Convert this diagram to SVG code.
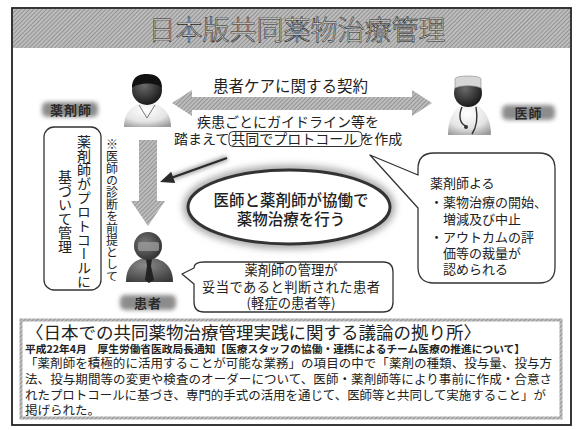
<svg xmlns="http://www.w3.org/2000/svg" width="577" height="430" viewBox="0 0 577 430">
  <style>
    .jp { font-family: "Noto Sans CJK JP", "Noto Sans", sans-serif; fill: #222; }
    .title { font-family: "Noto Sans CJK JP", sans-serif; font-size: 27px; font-weight: 300; fill: #ececec; stroke: #1e1e1e; stroke-width: 0.6px; text-anchor: middle; }
    .lbl { font-family: "Noto Sans CJK JP", sans-serif; font-size: 13px; font-weight: 700; fill: #2a2a2a; text-anchor: middle; letter-spacing: 1px; }
    .vert { writing-mode: vertical-rl; font-family: "Noto Sans CJK JP", sans-serif; fill: #222; }
    .bubble { fill: #fff; stroke: #333; stroke-width: 1.3; stroke-linejoin: round; }
    .shade { fill: url(#hatch); }
  </style>
  <defs>
    <pattern id="hatch" width="3" height="3" patternUnits="userSpaceOnUse" patternTransform="rotate(45)">
      <rect width="3" height="3" fill="#bdbdbd"/>
      <rect width="1" height="3" fill="#939393"/>
    </pattern>
    <filter id="blur2" x="-30%" y="-30%" width="160%" height="160%">
      <feGaussianBlur stdDeviation="2"/>
    </filter>
    <filter id="blur4" x="-20%" y="-40%" width="140%" height="180%">
      <feGaussianBlur stdDeviation="3.5"/>
    </filter>
    <radialGradient id="darkHead" cx="0.4" cy="0.35" r="0.7">
      <stop offset="0" stop-color="#6a6a6a"/>
      <stop offset="1" stop-color="#151515"/>
    </radialGradient>
    <radialGradient id="whiteBody" cx="0.45" cy="0.3" r="0.8">
      <stop offset="0" stop-color="#ffffff"/>
      <stop offset="0.6" stop-color="#e4e4e4"/>
      <stop offset="1" stop-color="#9a9a9a"/>
    </radialGradient>
    <radialGradient id="suit" cx="0.4" cy="0.3" r="0.8">
      <stop offset="0" stop-color="#8a8a8a"/>
      <stop offset="1" stop-color="#3a3a3a"/>
    </radialGradient>
    <radialGradient id="face" cx="0.4" cy="0.4" r="0.7">
      <stop offset="0" stop-color="#7a7a7a"/>
      <stop offset="1" stop-color="#2a2a2a"/>
    </radialGradient>
  </defs>

  <!-- page frame and heading band -->
  <rect x="12" y="8" width="559" height="417" fill="#fff" stroke="#222" stroke-width="1.8"/>
  <rect x="13" y="9" width="557" height="39" class="shade"/>
  <text class="title" x="297" y="40">日本版共同薬物治療管理</text>

  <!-- connectors -->
  <g id="connectors">
    <!-- contract arrow between pharmacist and physician -->
    <polygon class="shade" points="172,103 192,90 192,97 412,97 412,90 432,103 412,116 412,110 192,110 192,116"/>
    <!-- pharmacist to patient -->
    <polygon class="shade" points="139,140 157,140 157,201 165,201 148,226 131,201 139,201"/>
    <!-- collaboration pointer -->
    <g>
      <line x1="227" y1="158" x2="171" y2="178" stroke="#999" stroke-width="5" filter="url(#blur2)"/>
      <line x1="227" y1="158" x2="171" y2="178" stroke="#2a2a2a" stroke-width="2.2"/>
      <polygon points="160,182 175.2,182.9 171.2,171.7" fill="#2a2a2a"/>
    </g>
  </g>

  <!-- pharmacist -->
  <g id="pharmacist">
    <path d="M124,127 C124,111 134,103 147,103 C160,103 171,111 171,127 Z" fill="url(#whiteBody)"/>
    <path d="M139,105 L147,118 L155,105" fill="none" stroke="#777" stroke-width="1"/>
    <circle cx="147" cy="90" r="15" fill="url(#darkHead)"/>
    <path d="M132,88 C132,76 140,74 147,74 C156,74 162,78 162,88 C157,82 138,82 132,88 Z" fill="#111"/>
    <rect x="42" y="102" width="56" height="15" rx="5" fill="#8c8c8c" filter="url(#blur2)"/>
    <text class="lbl" x="71" y="114.5">薬剤師</text>
  </g>

  <!-- physician -->
  <g id="physician">
    <path d="M448,135 C448,115 457,104 469,104 C481,104 491,115 491,135 Z" fill="url(#whiteBody)"/>
    <circle cx="468" cy="93" r="14" fill="url(#darkHead)"/>
    <path d="M455,88 L455,79 C455,75 481,75 481,79 L481,88 C474,85 462,85 455,88 Z" fill="#d6d6d6" stroke="#888" stroke-width="0.6"/>
    <path d="M462,107 C458,116 460,124 466,126 M476,107 C478,118 476,128 472,134" fill="none" stroke="#333" stroke-width="1.4"/>
    <circle cx="466" cy="127" r="2" fill="#333"/>
    <rect x="502" y="105" width="53" height="15" rx="5" fill="#8c8c8c" filter="url(#blur2)"/>
    <text class="lbl" x="528.5" y="117.5">医師</text>
  </g>

  <!-- patient -->
  <g id="patient">
    <path d="M126,282 C126,265 136,258 149,258 C162,258 173,265 173,282 Z" fill="url(#suit)"/>
    <path d="M146,259 L152,259 L151,266 L154,280 L149,283 L145,280 L147,266 Z" fill="#222"/>
    <circle cx="148" cy="246" r="14" fill="url(#face)"/>
    <rect x="138" y="242" width="21" height="9" rx="2" fill="#9a9a9a" opacity="0.8"/>
    <rect x="120" y="295" width="56" height="15" rx="5" fill="#8c8c8c" filter="url(#blur2)"/>
    <text class="lbl" x="148" y="307.5">患者</text>
  </g>

  <!-- contract labels -->
  <g id="contract">
    <text class="jp" x="213" y="92" font-size="15.5">患者ケアに関する契約</text>
    <text class="jp" x="197" y="127" font-size="14">疾患ごとにガイドライン等を</text>
    <text class="jp" x="174" y="144" font-size="14">踏まえて<tspan dx="2">共同でプロトコール</tspan><tspan dx="3">を作成</tspan></text>
    <rect x="229" y="131.5" width="133" height="15" rx="4" fill="none" stroke="#333" stroke-width="1"/>
  </g>

  <!-- protocol management box -->
  <g id="protocol-box">
    <rect x="44" y="127" width="57" height="163" rx="10" fill="#fff" stroke="#333" stroke-width="1.3"/>
    <text class="vert" x="84" y="135" font-size="14">薬剤師がプロトコールに</text>
    <text class="vert" x="65" y="170" font-size="14">基づいて管理</text>
  </g>

  <!-- diagnosis note -->
  <g id="note">
    <text class="vert" x="112" y="138" font-size="12">※医師の診断を前提として</text>
  </g>

  <!-- collaboration ellipse -->
  <g id="collaboration">
    <ellipse cx="289" cy="207" rx="101" ry="37" fill="none" stroke="#a8a8a8" stroke-width="10" filter="url(#blur4)"/>
    <ellipse cx="289" cy="207" rx="101" ry="37" fill="#fff" stroke="#333" stroke-width="3"/>
    <text class="jp" x="291" y="206" font-size="15.5" text-anchor="middle" font-weight="500">医師と薬剤師が協働で</text>
    <text class="jp" x="291" y="225" font-size="15.5" text-anchor="middle" font-weight="500">薬物治療を行う</text>
  </g>

  <!-- pharmacist discretion bubble -->
  <g id="discretion">
    <path class="bubble" d="M418,175 L370,155 L418,208 L418,267 Q418,283 434,283 L539,283 Q555,283 555,267 L555,169 Q555,153 539,153 L434,153 Q418,153 418,169 Z"/>
    <g class="jp" font-size="13">
      <text x="430" y="188">薬剤師よる</text>
      <text x="430" y="207">・薬物治療の開始、</text>
      <text x="443" y="224">増減及び中止</text>
      <text x="430" y="242">・アウトカムの評</text>
      <text x="443" y="258">価等の裁量が</text>
      <text x="443" y="274">認められる</text>
    </g>
  </g>

  <!-- eligible patient bubble -->
  <g id="eligible">
    <path class="bubble" d="M204,262 Q194,262 194,268 L182,274 L194,284 L194,302 Q194,312 204,312 L383,312 Q393,312 393,302 L393,272 Q393,262 383,262 Z"/>
    <g class="jp" font-size="13.3" text-anchor="middle">
      <text x="291" y="275">薬剤師の管理が</text>
      <text x="291" y="292" textLength="178">妥当であると判断された患者</text>
      <text x="291" y="308">(軽症の患者等)</text>
    </g>
  </g>

  <!-- basis notice -->
  <g id="basis">
    <rect x="21" y="320" width="540" height="98" fill="#fff" stroke="url(#hatch)" stroke-width="3"/>
    <text class="jp" x="26" y="338.5" font-size="17.5">〈日本での共同薬物治療管理実践に関する議論の拠り所〉</text>
    <text class="jp" x="25" y="352.5" font-size="10.5" font-weight="700" textLength="500" lengthAdjust="spacingAndGlyphs">平成22年4月　厚生労働省医政局長通知【医療スタッフの協働・連携によるチーム医療の推進について】</text>
    <text class="jp" x="25" y="368" font-size="12.5" textLength="527">「薬剤師を積極的に活用することが可能な業務」の項目の中で「薬剤の種類、投与量、投与方</text>
    <text class="jp" x="25" y="384" font-size="12.5" textLength="527">法、投与期間等の変更や検査のオーダーについて、医師・薬剤師等により事前に作成・合意さ</text>
    <text class="jp" x="25" y="400" font-size="12.5" textLength="521">れたプロトコールに基づき、専門的手式の活用を通じて、医師等と共同して実施すること」が</text>
    <text class="jp" x="25" y="415" font-size="12.5">掲げられた。</text>
  </g>
</svg>
